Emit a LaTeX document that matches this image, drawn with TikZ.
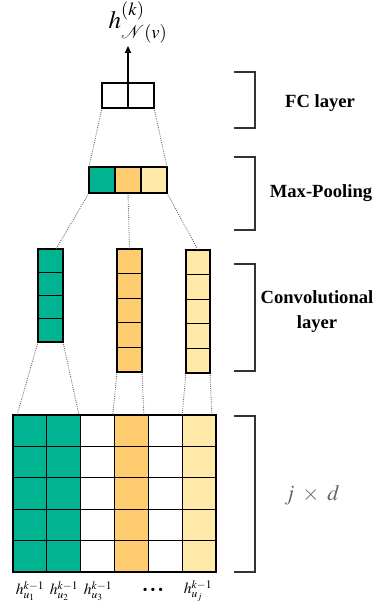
\documentclass[tikz,border=0pt]{standalone}
\usepackage{mathptmx}
\usepackage{fontspec}
\setmainfont{Liberation Serif}
\usetikzlibrary{calc,arrows.meta}
\definecolor{cgreen}{RGB}{0,180,146}
\definecolor{corange}{RGB}{255,204,112}
\definecolor{cyellow}{RGB}{255,233,168}
\definecolor{cgray}{RGB}{100,100,100}
\begin{document}
\begin{tikzpicture}[x=1pt,y=-1pt,
  cell/.style={draw=black, line width=1.3pt, inner sep=0pt, outer sep=0pt},
  fccell/.style={cell, fill=white, minimum width=26pt, minimum height=25pt},
  poolcell/.style={cell, minimum width=26pt, minimum height=26pt},
  convg/.style={cell, fill=cgreen, minimum width=25pt, minimum height=23.25pt},
  convo/.style={cell, fill=corange, minimum width=25pt, minimum height=24.6pt},
  convy/.style={cell, fill=cyellow, minimum width=24pt, minimum height=24.6pt},
  gridcell/.style={cell, minimum width=33.83pt, minimum height=31.4pt},
  conn/.style={draw=black!60, line width=0.9pt, dash pattern=on 0.9pt off 1.3pt, shorten <=2pt},
  brk/.style={draw=black!80, line width=1.3pt},
  layerlabel/.style={font=\fontsize{18.6}{25}\selectfont\bfseries, align=center, inner sep=0pt},
  hlabel/.style={font=\fontsize{15.5}{18}\selectfont, inner sep=0pt}
]
\useasboundingbox (0,0) rectangle (380,608);

% FC layer
\node[fccell] (fc1) at (115,95.5) {};
\node[fccell] (fc2) at (141,95.5) {};
\node[inner sep=0pt, anchor=north, font=\fontsize{25}{30}\selectfont] (out) at (138,1.5) {$h^{(k)}_{\mathcal{N}(v)}$};
\draw[line width=1.3pt, -{Triangle[length=7pt,width=6pt]}, shorten >=3pt] (fc1.north east) -- (fc1.north east |- out.south);

% Max pooling
\node[poolcell, fill=cgreen] (pool1) at (102,180) {};
\node[poolcell, fill=corange] (pool2) at (128,180) {};
\node[poolcell, fill=cyellow] (pool3) at (154,180) {};

% Convolutional columns
\foreach \i in {1,...,4} {
  \node[convg] (cg\i) at (50.5,{249+23.25*(\i-0.5)}) {};
}
\foreach \i in {1,...,5} {
  \node[convo] (co\i) at (129.5,{249+24.6*(\i-0.5)}) {};
  \node[convy] (cy\i) at (198,{250+24.6*(\i-0.5)}) {};
}

% Input grid
\foreach \c/\col in {1/cgreen,2/cgreen,3/white,4/corange,5/white,6/cyellow} {
  \foreach \r in {1,...,5} {
    \node[gridcell, fill=\col] (g\c-\r) at ({13+33.83*(\c-0.5)},{415+31.4*(\r-0.5)}) {};
  }
}

% dotted connectors
\draw[conn] (fc1.south west) -- (pool1.north west);
\draw[conn] (fc2.south east) -- (pool3.north east);
\draw[conn] (pool1.south west) -- ($(cg1.north west)!0.72!(cg1.north east)$);
\draw[conn] (pool2.south) -- (co1.north);
\draw[conn] (pool3.south east) -- (cy1.north);
\draw[conn] (cg4.south west) -- ($(g1-1.north west)!0.12!(g1-1.north east)$);
\draw[conn] (cg4.south east) -- ($(g2-1.north west)!0.95!(g2-1.north east)$);
\draw[conn] (co5.south west) -- ($(g4-1.north west)!-0.05!(g4-1.north east)$);
\draw[conn] (co5.south east) -- ($(g4-1.north west)!0.87!(g4-1.north east)$);
\draw[conn] (cy5.south west) -- ($(g6-1.north west)!0.0!(g6-1.north east)$);
\draw[conn] (cy5.south east) -- ($(g6-1.north west)!0.88!(g6-1.north east)$);

% labels under grid
\node[hlabel] (l1) at (30,591) {$h^{k-1}_{u_1}$};
\node[hlabel] (l2) at (64,591) {$h^{k-1}_{u_2}$};
\node[hlabel] (l3) at (98,591) {$h^{k-1}_{u_3}$};
\node[inner sep=0pt, font=\fontsize{20}{20}\selectfont\bfseries] (ldots) at (153,592) {·\kern1pt·\kern1pt·};
\node[hlabel] (lj) at (198,591) {$h^{k-1}_{u_j}$};

% brackets
\draw[brk] (234,72) -- (255,72) -- (255,128) -- (234,128);
\draw[brk] (234,157) -- (255,157) -- (255,230) -- (234,230);
\draw[brk] (234,264) -- (255,264) -- (255,371) -- (234,371);
\draw[brk] (234,416) -- (255,416) -- (255,572) -- (234,572);

% layer labels
\node[layerlabel] (tfc) at (320,103) {FC layer};
\node[layerlabel] (tpool) at (321,193) {Max-Pooling};
\node[layerlabel] (tconv) at (317,312) {Convolutional\\layer};
\node[inner sep=0pt, text=cgray, font=\fontsize{22}{26}\selectfont] (tjd) at (312,495) {$j\;\times\;d$};
\end{tikzpicture}
\end{document}
